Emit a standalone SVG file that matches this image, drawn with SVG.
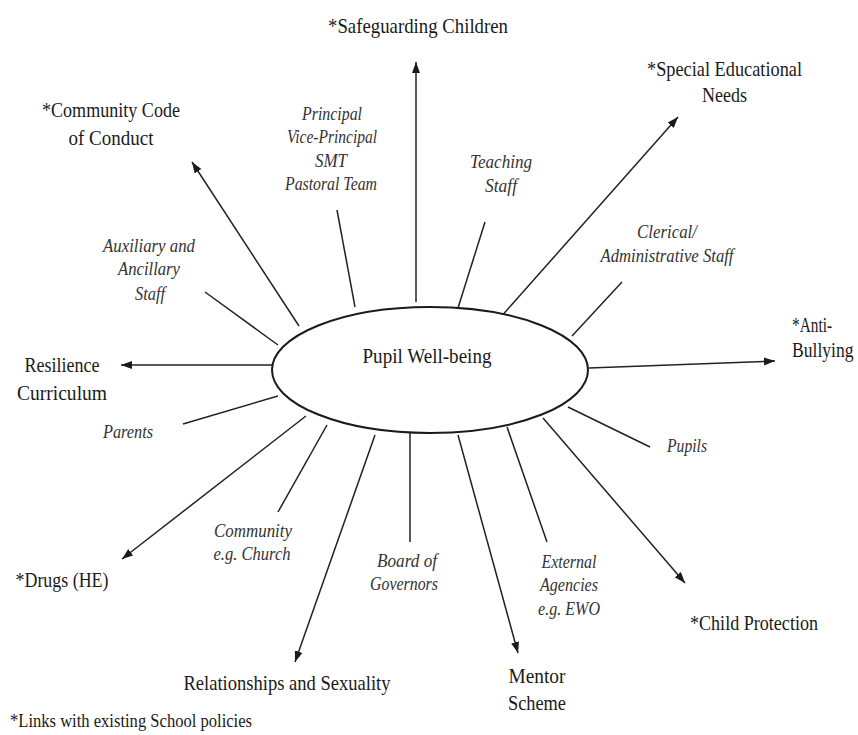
<svg xmlns="http://www.w3.org/2000/svg" width="858" height="735" viewBox="0 0 858 735">
<defs>
<marker id="ah" markerUnits="userSpaceOnUse" markerWidth="12" markerHeight="10" viewBox="0 0 12 10" refX="11" refY="5" orient="auto">
<path d="M0,1 L11,5 L0,9 Z" fill="#1a1a1a"/>
</marker>
<style>
text{font-family:"Liberation Serif","Times New Roman",serif;fill:#1a1a1a;text-anchor:middle}
.m{font-size:22px}
.i{font-size:19px;font-style:italic;fill:#333}
.f{font-size:18px}
.l{stroke:#222;stroke-width:1.5;fill:none}
.a{stroke:#222;stroke-width:1.5;fill:none;marker-end:url(#ah)}
</style>
</defs>
<rect width="858" height="735" fill="#fff"/>
<g id="connectors">
<line class="a" x1="416" y1="302" x2="416" y2="62"/>
<line class="a" x1="500" y1="318" x2="678" y2="117"/>
<line class="a" x1="589" y1="368" x2="775" y2="361"/>
<line class="a" x1="543" y1="418" x2="685" y2="583"/>
<line class="a" x1="458" y1="435" x2="518" y2="653"/>
<line class="a" x1="375" y1="435" x2="295" y2="662"/>
<line class="a" x1="306" y1="416" x2="122" y2="559"/>
<line class="a" x1="273" y1="365" x2="121" y2="365"/>
<line class="a" x1="299" y1="326" x2="192" y2="162"/>
<line class="l" x1="337" y1="210" x2="355" y2="307"/>
<line class="l" x1="485" y1="222" x2="458" y2="308"/>
<line class="l" x1="622" y1="282" x2="572" y2="336"/>
<line class="l" x1="568" y1="407" x2="650" y2="447"/>
<line class="l" x1="507" y1="427" x2="547" y2="542"/>
<line class="l" x1="410" y1="432" x2="410" y2="542"/>
<line class="l" x1="327" y1="425" x2="278" y2="512"/>
<line class="l" x1="278" y1="396" x2="183" y2="424"/>
<line class="l" x1="205" y1="292" x2="278" y2="345"/>
</g>
<g id="center">
<ellipse cx="430" cy="370" rx="158" ry="63" fill="#fff" stroke="#1a1a1a" stroke-width="2"/>
<text class="m" x="427" y="363" textLength="129" lengthAdjust="spacingAndGlyphs">Pupil Well-being</text>
</g>
<g id="safeguarding"><text class="m" x="418" y="33" textLength="180" lengthAdjust="spacingAndGlyphs">*Safeguarding Children</text></g>
<g id="sen">
<text class="m" x="724.5" y="76" textLength="155" lengthAdjust="spacingAndGlyphs">*Special Educational</text>
<text class="m" x="724.5" y="102" textLength="45" lengthAdjust="spacingAndGlyphs">Needs</text>
</g>
<g id="community-code">
<text class="m" x="111" y="117" textLength="138" lengthAdjust="spacingAndGlyphs">*Community Code</text>
<text class="m" x="111" y="145" textLength="85" lengthAdjust="spacingAndGlyphs">of Conduct</text>
</g>
<g id="anti-bullying">
<text class="m" x="812" y="332" textLength="40" lengthAdjust="spacingAndGlyphs">*Anti-</text>
<text class="m" transform="translate(792,357) scale(0.8,1)" x="0" y="0" style="text-anchor:start">Bullying</text>
</g>
<g id="resilience">
<text class="m" x="62" y="372" textLength="75" lengthAdjust="spacingAndGlyphs">Resilience</text>
<text class="m" x="62" y="400" textLength="90" lengthAdjust="spacingAndGlyphs">Curriculum</text>
</g>
<g id="drugs"><text class="m" x="62" y="587" textLength="93" lengthAdjust="spacingAndGlyphs">*Drugs (HE)</text></g>
<g id="relationships"><text class="m" x="287" y="690" textLength="207" lengthAdjust="spacingAndGlyphs">Relationships and Sexuality</text></g>
<g id="mentor">
<text class="m" x="537" y="683" textLength="57" lengthAdjust="spacingAndGlyphs">Mentor</text>
<text class="m" x="537" y="710" textLength="58" lengthAdjust="spacingAndGlyphs">Scheme</text>
</g>
<g id="child-protection"><text class="m" x="754" y="630" textLength="128" lengthAdjust="spacingAndGlyphs">*Child Protection</text></g>
<g id="principal">
<text class="i" x="332" y="120" textLength="60" lengthAdjust="spacingAndGlyphs">Principal</text>
<text class="i" x="332" y="143" textLength="90" lengthAdjust="spacingAndGlyphs">Vice-Principal</text>
<text class="i" x="331" y="167" textLength="32" lengthAdjust="spacingAndGlyphs">SMT</text>
<text class="i" x="331" y="190" textLength="92" lengthAdjust="spacingAndGlyphs">Pastoral Team</text>
</g>
<g id="auxiliary">
<text class="i" x="149" y="252" textLength="92" lengthAdjust="spacingAndGlyphs">Auxiliary and</text>
<text class="i" x="149" y="275" textLength="62" lengthAdjust="spacingAndGlyphs">Ancillary</text>
<text class="i" x="150" y="300" textLength="30" lengthAdjust="spacingAndGlyphs">Staff</text>
</g>
<g id="teaching">
<text class="i" x="501" y="168" textLength="62" lengthAdjust="spacingAndGlyphs">Teaching</text>
<text class="i" x="501" y="192" textLength="32" lengthAdjust="spacingAndGlyphs">Staff</text>
</g>
<g id="clerical">
<text class="i" x="667" y="238" textLength="60" lengthAdjust="spacingAndGlyphs">Clerical/</text>
<text class="i" x="667" y="262" textLength="133" lengthAdjust="spacingAndGlyphs">Administrative Staff</text>
</g>
<g id="parents"><text class="i" x="128" y="438" textLength="50" lengthAdjust="spacingAndGlyphs">Parents</text></g>
<g id="pupils"><text class="i" x="687" y="452" textLength="40" lengthAdjust="spacingAndGlyphs">Pupils</text></g>
<g id="community">
<text class="i" x="253" y="537" textLength="78" lengthAdjust="spacingAndGlyphs">Community</text>
<text class="i" x="252" y="560" textLength="77" lengthAdjust="spacingAndGlyphs">e.g. Church</text>
</g>
<g id="board">
<text class="i" x="407" y="567" textLength="60" lengthAdjust="spacingAndGlyphs">Board of</text>
<text class="i" x="404" y="590" textLength="68" lengthAdjust="spacingAndGlyphs">Governors</text>
</g>
<g id="external">
<text class="i" x="569" y="568" textLength="55" lengthAdjust="spacingAndGlyphs">External</text>
<text class="i" x="569" y="591" textLength="58" lengthAdjust="spacingAndGlyphs">Agencies</text>
<text class="i" x="569" y="615" textLength="62" lengthAdjust="spacingAndGlyphs">e.g. EWO</text>
</g>
<g id="footnote"><text class="f" x="131" y="727" textLength="242" lengthAdjust="spacingAndGlyphs">*Links with existing School policies</text></g>
</svg>
